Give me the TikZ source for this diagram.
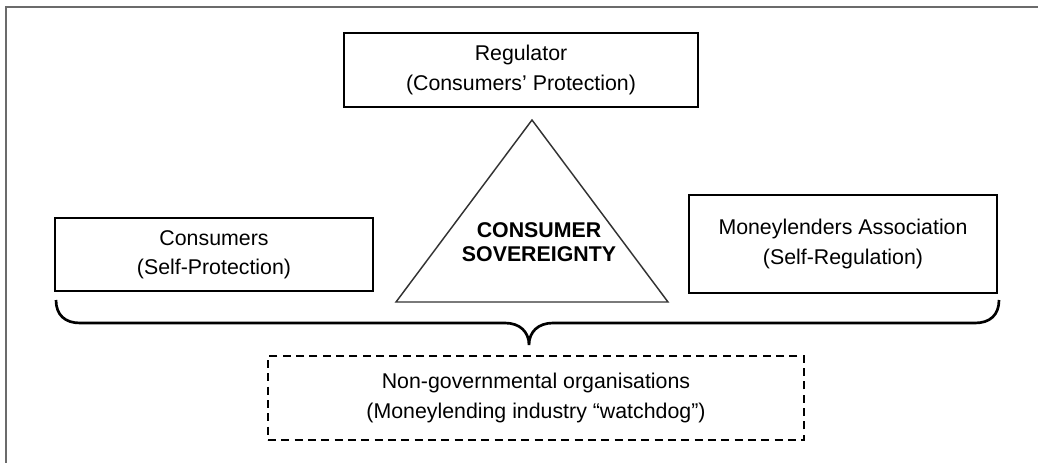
\documentclass[tikz,border=0pt]{standalone}
\usepackage{fontspec}
\setmainfont{Liberation Sans}
\usetikzlibrary{positioning}

\tikzset{
  party/.style={draw, line width=1.5pt, align=center, inner sep=0pt,
    font=\fontsize{16}{22}\selectfont},
  watchdog/.style={party, dash pattern=on 6pt off 4pt},
  frameline/.style={draw=black!58, line width=1.5pt},
  apex/.style={draw=black!80, line width=1.1pt},
  brace/.style={draw, line width=2pt},
}

\begin{document}
\begin{tikzpicture}[x=0.75pt, y=-0.75pt]
  \useasboundingbox (0,0) rectangle (1038,463);
  % Frame (top and left only)
  \draw[frameline] (6,463) -- (6,7) -- (1038,7);

  % Parties round the triangle
  \node[party, minimum width=266pt, minimum height=55.5pt] (reg)   at (521,70)    {Regulator\\(Consumers’ Protection)};
  \node[party, minimum width=238.5pt, minimum height=54.75pt] (cons) at (214,254.5) {Consumers\\(Self-Protection)};
  \node[party, minimum width=231pt, minimum height=73.5pt] (money) at (843,244)   {Moneylenders Association\\(Self-Regulation)};
  \node[watchdog, minimum width=402pt, minimum height=63pt] (ngo)  at (536,398)   {Non-governmental organisations\\(Moneylending industry “watchdog”)};

  % Triangle
  \coordinate (top)   at (532,120);
  \coordinate (left)  at (396,302);
  \coordinate (right) at (668,302);
  \draw[apex] (top) -- (left) -- (right) -- cycle;
  \node[align=center, font=\fontsize{16}{18}\selectfont\bfseries] (sov) at (539,242) {CONSUMER\\SOVEREIGNTY};

  % Brace under the parties
  \draw[brace] (56,300) .. controls (56,315) and (65,323) .. (80,323)
    -- (505,323) .. controls (520,323) and (529,332) .. (529,345)
    .. controls (529,332) and (538,323) .. (553,323)
    -- (975,323) .. controls (990,323) and (999,315) .. (999,300);
\end{tikzpicture}
\end{document}
